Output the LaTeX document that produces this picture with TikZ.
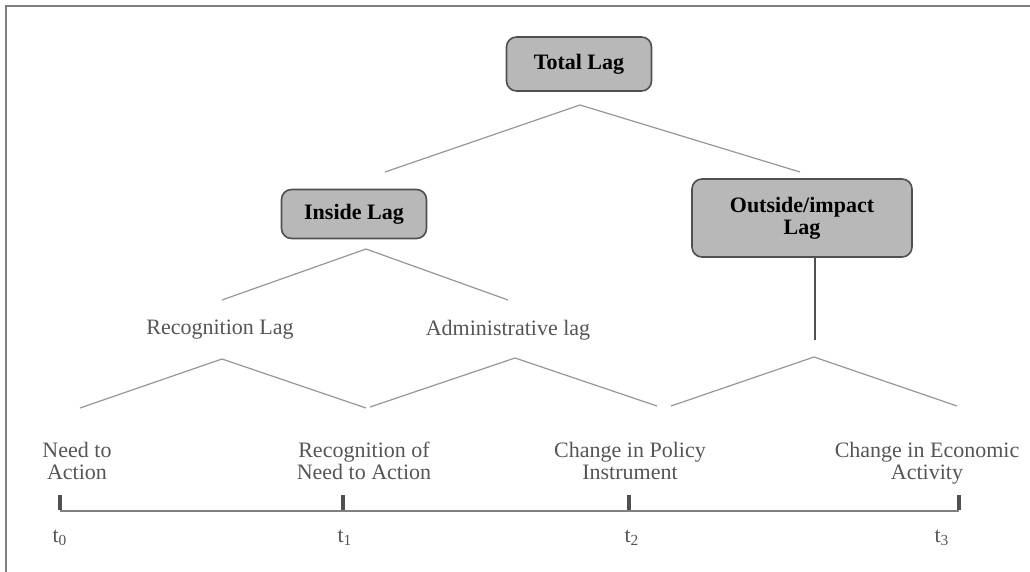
\documentclass[tikz,border=0pt]{standalone}
\usepackage{fontspec}
\setmainfont{Liberation Serif}
\usepackage{xcolor}
\definecolor{boxgray}{RGB}{184,184,184}
\definecolor{edgegray}{RGB}{80,80,80}
\definecolor{linegray}{RGB}{150,150,150}
\definecolor{textgray}{RGB}{85,85,85}
\usepackage{tikz}
\usetikzlibrary{positioning}

\tikzset{
  lagbox/.style={draw=edgegray,fill=boxgray,rounded corners=5pt,line width=0.8pt,
    align=center,inner sep=0pt,font=\fontsize{11}{11}\selectfont\bfseries},
  lagtext/.style={text=textgray,align=center,inner sep=0pt,font=\fontsize{11}{11}\selectfont},
  chev/.style={draw=linegray,line width=0.6pt},
  timetick/.style={fill=edgegray,minimum width=2pt,minimum height=7.5pt,inner sep=0pt}
}

\begin{document}
\begin{tikzpicture}[x=0.5pt,y=-0.5pt]
\useasboundingbox (0,0) rectangle (1030,572);
\draw[gray,line width=1.2pt] (1030,6) -- (6,6) -- (6,572);

% boxes
\node (total) at (579,64) [lagbox,minimum width=72.5pt,minimum height=27pt]{Total Lag};
\node (inside) at (354,214) [lagbox,minimum width=72.5pt,minimum height=24.5pt]{Inside Lag};
\node (outside) at (802,218) [lagbox,minimum width=110pt,minimum height=39pt]{Outside/impact\\Lag};

% lag names
\node (recog) at (220,330) [lagtext]{Recognition Lag};
\node (admin) at (508,330) [lagtext]{Administrative lag};

% events
\node (need) at (77,461) [lagtext]{Need to\\Action};
\node (recneed) at (364,461) [lagtext]{Recognition of\\Need to Action};
\node (policy) at (630,461) [lagtext]{Change in Policy\\Instrument};
\node (econ) at (927,463) [lagtext]{Change in Economic\\Activity};

% chevrons
\coordinate (totaltop) at (580,105);
\coordinate (totall) at (385,172);
\coordinate (totalr) at (800,172);
\coordinate (insidetop) at (366,249);
\coordinate (insidel) at (222,300);
\coordinate (insider) at (508,300);
\coordinate (recogtop) at (222,359);
\coordinate (recogl) at (80,408);
\coordinate (recogr) at (366,408);
\coordinate (admintop) at (515,358);
\coordinate (adminl) at (370,407);
\coordinate (adminr) at (657,406);
\coordinate (outtop) at (814,357);
\coordinate (outl) at (671,406);
\coordinate (outr) at (957,406);
\coordinate (outdrop) at (815,340);

\draw[chev] (totall) -- (totaltop) -- (totalr);
\draw[chev] (insidel) -- (insidetop) -- (insider);
\draw[chev] (recogl) -- (recogtop) -- (recogr);
\draw[chev] (adminl) -- (admintop) -- (adminr);
\draw[chev] (outl) -- (outtop) -- (outr);
\draw[edgegray,line width=0.6pt] (outside.south -| outdrop) -- (outdrop);

% time line
\node (t0) at (60,503) [timetick]{};
\node (t1) at (343,503) [timetick]{};
\node (t2) at (629,503) [timetick]{};
\node (t3) at (959,503) [timetick]{};
\draw[gray,line width=1pt] (t0.south) -- (t3.south);
\node (lab0) at (60,538) [lagtext]{t\textsubscript{0}};
\node (lab1) at (345,538) [lagtext]{t\textsubscript{1}};
\node (lab2) at (632,538) [lagtext]{t\textsubscript{2}};
\node (lab3) at (942,538) [lagtext]{t\textsubscript{3}};
\end{tikzpicture}
\end{document}
